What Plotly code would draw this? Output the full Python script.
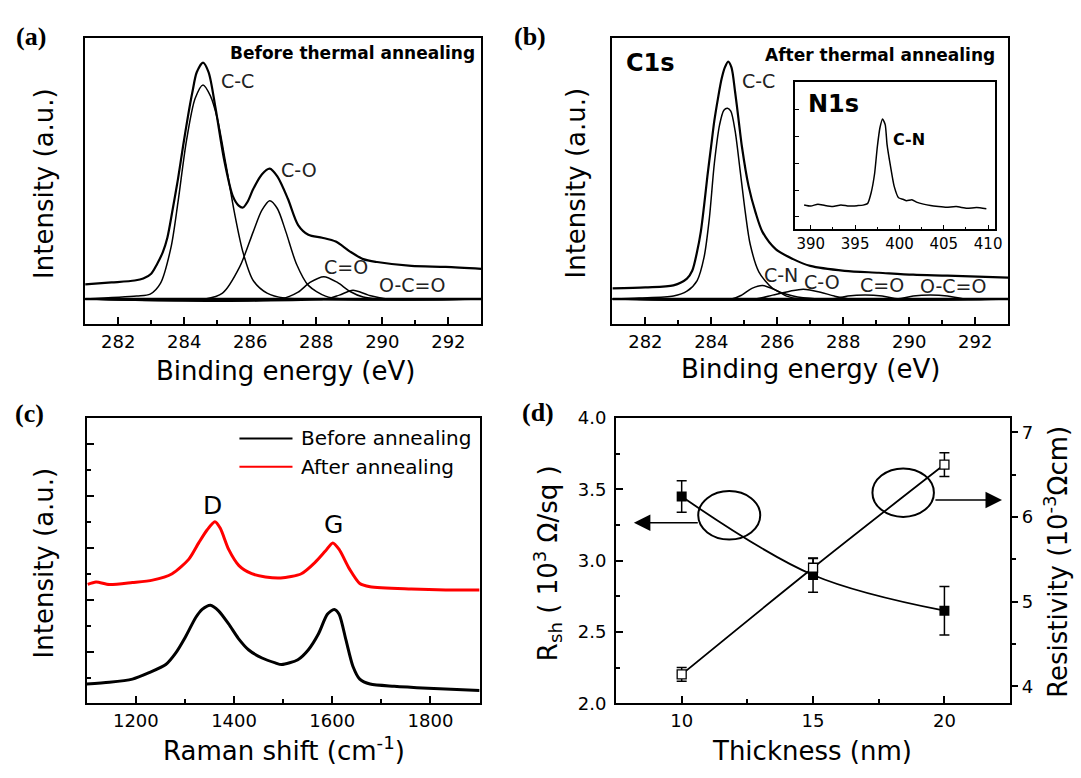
import plotly.graph_objects as go

W, H = 1081, 778
SANS = "DejaVu Sans"
SERIF = "Liberation Serif"

# ---------------- (a) C1s XPS, before thermal annealing ----------------
a_env_x = [281.0, 281.8, 282.5, 282.76, 283.0, 283.18, 283.35, 283.49, 283.65, 283.81,
           283.97, 284.12, 284.25, 284.38, 284.57, 284.74, 284.95, 285.21, 285.47, 285.65,
           285.78, 285.92, 286.09, 286.35, 286.59, 286.82, 287.14, 287.45, 287.76, 288.18,
           288.59, 289.01, 289.42, 289.84, 290.88, 291.92, 293.0]
a_env_y = [15, 17, 19, 21, 26, 36, 48, 63, 92, 123,
           158, 189, 213, 233, 243, 233, 196, 143, 106, 96,
           94, 100, 113, 128, 134, 126, 103, 76, 66, 63,
           59, 49, 41, 38, 34, 33, 31]
a_cc_x = [281.0, 282.56, 282.97, 283.28, 283.6, 283.81, 284.07, 284.33, 284.57, 284.79,
          285.0, 285.26, 285.52, 285.78, 286.09, 286.51, 287.03, 293.0]
a_cc_y = [0, 3, 5, 16, 53, 99, 163, 206, 220, 209, 186, 139, 89, 48, 19, 6, 1, 0]
a_co_x = [281.0, 284.64, 285.16, 285.68, 286.09, 286.35, 286.59, 286.82, 287.08, 287.4,
          287.76, 288.28, 288.8, 293.0]
a_co_y = [0, 0, 6, 33, 69, 91, 101, 93, 69, 36, 14, 3, 0, 0]
a_c2o_x = [281.0, 286.93, 287.45, 287.81, 288.23, 288.64, 289.01, 289.42, 289.84, 293.0]
a_c2o_y = [0, 0, 7, 17, 23, 17, 8, 2, 0, 0]
a_occ_x = [281.0, 288.28, 288.7, 289.11, 289.58, 290.15, 293.0]
a_occ_y = [0, 0, 4, 9, 4, 0, 0]
a_base_x = [281.0, 293.0]
a_base_y = [0, 0]

# ---------------- (b) C1s XPS, after thermal annealing ----------------
b_env_x = [281.0, 282.0, 282.85, 283.26, 283.42, 283.57, 283.68, 283.78, 283.88, 283.99,
           284.09, 284.2, 284.31, 284.41, 284.51, 284.61, 284.72, 284.82, 284.93, 285.13,
           285.34, 285.55, 285.96, 286.48, 287.0, 288.04, 289.08, 290.12, 291.16, 293.0]
b_env_y = [11, 12, 14, 21, 29, 49, 69, 96, 126, 156,
           183, 206, 226, 238, 244, 238, 213, 186, 156, 116,
           89, 69, 51, 41, 34, 29, 27, 25, 24, 22]
b_cc_x = [281.0, 281.81, 282.85, 283.26, 283.57, 283.78, 283.94, 284.09, 284.25, 284.38,
          284.49, 284.59, 284.72, 284.87, 285.03, 285.18, 285.44, 285.86, 286.48, 287.21, 293.0]
b_cc_y = [0, 1, 3, 8, 19, 43, 83, 139, 179, 194, 196, 193, 173, 133, 89, 56, 28, 11, 3, 0, 0]
b_cn_x = [281.0, 284.61, 284.92, 285.23, 285.55, 285.96, 286.28, 286.69, 293.0]
b_cn_y = [0, 0, 4, 11, 14, 9, 3, 0, 0]
b_co_x = [281.0, 285.34, 285.86, 286.38, 286.79, 287.31, 287.73, 288.25, 293.0]
b_co_y = [0, 0, 4, 8, 10, 7, 3, 0, 0]
b_c2o_x = [281.0, 287.62, 288.14, 288.66, 289.18, 289.7, 293.0]
b_c2o_y = [0, 0, 3, 4, 3, 0, 0]
b_occ_x = [281.0, 289.6, 290.12, 290.64, 291.16, 291.68, 293.0]
b_occ_y = [0, 0, 3, 4, 3, 0, 0]
b_base_x = [281.0, 293.0]
b_base_y = [0, 0]

# inset N1s
n_x = [389.25, 390.0, 390.8, 391.6, 392.5, 393.4, 394.3, 395.3, 395.9, 396.4,
       396.8, 397.2, 397.5, 397.8, 398.1, 398.4, 398.6, 399.0, 399.4, 399.9,
       400.4, 400.8, 401.4, 402.0, 402.7, 403.5, 404.4, 405.3, 406.4, 407.6,
       408.7, 409.8]
n_y = [24.7, 23.5, 25.5, 24, 23, 24.7, 23.5, 24, 24.5, 26,
       37, 57, 84, 104, 113, 107, 87, 64, 44, 32,
       30.5, 29, 30, 27.3, 25.5, 24, 23, 22.3, 23, 21.3,
       22, 20.7]

# ---------------- (c) Raman ----------------
r_before_x = [1100, 1146, 1193, 1227, 1261, 1281, 1301, 1322, 1335, 1352,
              1369, 1389, 1409, 1430, 1457, 1484, 1497, 1530, 1551, 1572,
              1590, 1604, 1614, 1628, 1642, 1656, 1677, 1726, 1795, 1900]
r_before_y = [0.375, 0.407, 0.469, 0.594, 0.75, 0.969, 1.281, 1.656, 1.813, 1.894,
              1.781, 1.532, 1.251, 1.031, 0.876, 0.782, 0.75, 0.844, 1.031, 1.344,
              1.719, 1.813, 1.719, 1.219, 0.718, 0.469, 0.375, 0.332, 0.294, 0.249]
r_after_x = [1102, 1119, 1146, 1193, 1234, 1274, 1308, 1328, 1345, 1361,
             1372, 1389, 1410, 1436, 1464, 1495, 1537, 1565, 1586, 1601,
             1614, 1635, 1656, 1677, 1761, 1831, 1900]
r_after_y = [2.293, 2.34, 2.293, 2.331, 2.376, 2.5, 2.781, 3.094, 3.343, 3.501,
             3.375, 2.968, 2.657, 2.5, 2.438, 2.419, 2.5, 2.719, 2.938, 3.094,
             2.968, 2.593, 2.312, 2.25, 2.207, 2.188, 2.188]
raman_names = ["Before annealing", "After annealing"]

# ---------------- (d) sheet resistance / resistivity ----------------
thick = [10, 15, 20]
rsh = [3.45, 2.90, 2.65]
rsh_err = [0.11, 0.12, 0.17]
rho = [4.14, 5.40, 6.62]
rho_err = [0.08, 0.11, 0.14]


def fx(px):
    return px / W


def fy(py):
    return 1 - py / H


fig = go.Figure()

def comp(x, y, xa, ya, w=1.5):
    fig.add_trace(go.Scatter(x=x, y=y, mode="lines", xaxis=xa, yaxis=ya,
                             line=dict(color="black", width=w, shape="spline", smoothing=0.8),
                             showlegend=False, hoverinfo="skip"))

# (a)
comp(a_base_x, a_base_y, "x", "y", 2.5)
for xs, ys in [(a_cc_x, a_cc_y), (a_co_x, a_co_y), (a_c2o_x, a_c2o_y), (a_occ_x, a_occ_y)]:
    comp(xs, ys, "x", "y", 1.5)
comp(a_env_x, a_env_y, "x", "y", 2.2)
# (b)
comp(b_base_x, b_base_y, "x2", "y2", 2.5)
for xs, ys in [(b_cc_x, b_cc_y), (b_cn_x, b_cn_y), (b_co_x, b_co_y),
               (b_c2o_x, b_c2o_y), (b_occ_x, b_occ_y)]:
    comp(xs, ys, "x2", "y2", 1.5)
comp(b_env_x, b_env_y, "x2", "y2", 2.2)
# inset
fig.add_trace(go.Scatter(x=n_x, y=n_y, mode="lines", xaxis="x3", yaxis="y3",
                         line=dict(color="black", width=1.5, shape="spline", smoothing=0.5),
                         showlegend=False))
# (c)
fig.add_trace(go.Scatter(x=r_before_x, y=r_before_y, mode="lines", xaxis="x4", yaxis="y4",
                         name=raman_names[0],
                         line=dict(color="black", width=3, shape="spline", smoothing=0.7),
                         showlegend=False))
fig.add_trace(go.Scatter(x=r_after_x, y=r_after_y, mode="lines", xaxis="x4", yaxis="y4",
                         name=raman_names[1],
                         line=dict(color="#ff0000", width=3, shape="spline", smoothing=0.7),
                         showlegend=False))
# (d)
fig.add_trace(go.Scatter(x=thick, y=rsh, mode="lines+markers", xaxis="x5", yaxis="y5",
                         line=dict(color="black", width=1.8, shape="spline"),
                         marker=dict(symbol="square", size=10, color="black"),
                         error_y=dict(type="data", array=rsh_err, color="black",
                                      thickness=1.5, width=5),
                         showlegend=False))
fig.add_trace(go.Scatter(x=thick, y=rho, mode="lines+markers", xaxis="x5", yaxis="y6",
                         line=dict(color="black", width=1.8, shape="spline"),
                         marker=dict(symbol="square", size=9, color="white",
                                     line=dict(color="black", width=1.3)),
                         error_y=dict(type="data", array=rho_err, color="black",
                                      thickness=1.5, width=5),
                         showlegend=False))

tickfont = dict(family=SANS, size=18, color="black")
box = dict(showline=True, linewidth=2, linecolor="black", mirror=True,
           showgrid=False, zeroline=False)

def xpsx(dom, anchor):
    return dict(domain=dom, anchor=anchor, range=[281, 293], dtick=2, tick0=282,
                ticks="inside", ticklen=7, tickwidth=1.5, tickcolor="black",
                minor=dict(ticks="inside", ticklen=4, dtick=1, tickwidth=1.5, tickcolor="black"),
                tickfont=tickfont, **box)

def noy(dom, anchor, rng):
    return dict(domain=dom, anchor=anchor, range=rng, showticklabels=False, ticks="", **box)

fig.update_layout(
    width=W, height=H, margin=dict(l=0, r=0, t=0, b=0),
    paper_bgcolor="white", plot_bgcolor="white",
    xaxis=xpsx([fx(85.7), fx(484.5)], "y"),
    yaxis=noy([fy(321.7), fy(27.5)], "x", [-25.7, 268.5]),
    xaxis2=xpsx([fx(616.4), fx(1014.7)], "y2"),
    yaxis2=noy([fy(321.7), fy(27.5)], "x2", [-25.7, 268.5]),
    xaxis3=dict(domain=[fx(800), fx(1001.7)], anchor="y3", range=[388.2, 410.8], dtick=5,
                ticks="inside", ticklen=4, tickwidth=1, tickcolor="black",
                minor=dict(ticks="inside", ticklen=2, dtick=2.5, tickcolor="black"),
                tickfont=dict(family=SANS, size=15, color="black"),
                showline=True, linewidth=1.5, linecolor="black", mirror=True,
                showgrid=False, zeroline=False),
    yaxis3=dict(domain=[fy(224), fy(73.3)], anchor="x3", range=[0, 150.7],
                tick0=12.3, dtick=27.7, ticks="inside", ticklen=4, tickwidth=1, tickcolor="black",
                showticklabels=False, showline=True, linewidth=1.5, linecolor="black",
                mirror=True, showgrid=False, zeroline=False),
    xaxis4=dict(domain=[fx(87.3), fx(482.7)], anchor="y4", range=[1100, 1900], dtick=200,
                ticks="inside", ticklen=7, tickwidth=1.5, tickcolor="black",
                minor=dict(ticks="inside", ticklen=4, dtick=100, tickwidth=1.5, tickcolor="black"),
                tickfont=tickfont, **box),
    yaxis4=dict(domain=[fy(711.7), fy(418.3)], anchor="x4", range=[0, 5.5], dtick=1, tick0=0,
                ticks="inside", ticklen=7, tickwidth=1.5, tickcolor="black",
                minor=dict(ticks="inside", ticklen=4, dtick=0.5, tickwidth=1.5, tickcolor="black"),
                showticklabels=False, **box),
    xaxis5=dict(domain=[fx(620), fx(1016.7)], anchor="y5", range=[7.5, 22.5], dtick=5, tick0=0,
                ticks="inside", ticklen=7, tickwidth=1.5, tickcolor="black",
                minor=dict(ticks="inside", ticklen=4, dtick=2.5, tickwidth=1.5, tickcolor="black"),
                tickfont=tickfont, **box),
    yaxis5=dict(domain=[fy(711.7), fy(418.3)], anchor="x5", range=[2.0, 4.0], dtick=0.5,
                tick0=0, tickformat=".1f", ticks="inside", ticklen=7, tickwidth=1.5,
                tickcolor="black",
                minor=dict(ticks="inside", ticklen=4, dtick=0.25, tickwidth=1.5, tickcolor="black"),
                tickfont=tickfont, ticklabelstandoff=4, **box),
    yaxis6=dict(overlaying="y5", side="right", anchor="x5", range=[3.796, 7.17], dtick=1,
                tick0=0, ticks="outside", ticklen=6, tickwidth=1.5, tickcolor="black",
                minor=dict(ticks="outside", ticklen=4, dtick=0.5, tickwidth=1.5, tickcolor="black"),
                tickfont=tickfont, showline=True, linewidth=2, linecolor="black",
                showgrid=False, zeroline=False),
)

ann = []

def paper_text(text, px, py, size, angle=0, font=SANS, xanchor="center", color="black"):
    ann.append(dict(text=text, x=fx(px), y=fy(py), xref="paper", yref="paper",
                    showarrow=False, textangle=angle, xanchor=xanchor, yanchor="middle",
                    font=dict(family=font, size=size, color=color)))

def data_text(text, x, y, xr, yr, size, bold=False, xanchor="left", color="#222"):
    ann.append(dict(text=("<b>%s</b>" % text) if bold else text, x=x, y=y, xref=xr, yref=yr,
                    showarrow=False, xanchor=xanchor, yanchor="middle",
                    font=dict(family=SANS, size=size, color=color)))

# panel letters
for lab, px, py in [("(a)", 31, 26), ("(b)", 533, 26), ("(c)", 30, 414), ("(d)", 542, 413)]:
    paper_text("<b>%s</b>" % lab, px, py, 26, font=SERIF)

# axis titles
paper_text("Binding energy (eV)", 287.5, 370, 26)
paper_text("Binding energy (eV)", 815.8, 368, 26)
paper_text("Raman shift (cm<sup>-1</sup>)", 285.8, 758, 26)
paper_text("Thickness (nm)", 817, 761, 26)
paper_text("Intensity (a.u.)", 45, 177, 26, angle=-90)
paper_text("Intensity (a.u.)", 580, 177, 26, angle=-90)
paper_text("Intensity (a.u.)", 44, 567, 26, angle=-90)
paper_text("R<sub>sh</sub> ( 10<sup>3</sup> Ω/sq )", 551, 567, 26, angle=-90)
paper_text("Resistivity (10<sup>-3</sup>Ωcm)", 1063, 566, 26, angle=-90)

# (a) labels
data_text("Before thermal annealing", 292.86, 252.7, "x", "y", 17, bold=True,
          xanchor="right", color="black")
data_text("C-C", 285.05, 224, "x", "y", 19)
data_text("C-O", 286.87, 133, "x", "y", 19)
data_text("C=O", 288.18, 33, "x", "y", 19)
data_text("O-C=O", 289.84, 14, "x", "y", 19)
# (b) labels
data_text("After thermal annealing", 292.66, 251, "x2", "y2", 17, bold=True,
          xanchor="right", color="black")
data_text("C1s", 281.34, 243, "x2", "y2", 24, bold=True, color="black")
data_text("C-C", 284.87, 224, "x2", "y2", 19)
data_text("C-N", 285.55, 25, "x2", "y2", 19)
data_text("C-O", 286.74, 17, "x2", "y2", 19)
data_text("C=O", 288.46, 14, "x2", "y2", 19)
data_text("O-C=O", 290.27, 13, "x2", "y2", 19)
# inset labels
data_text("N1s", 389.41, 128, "x3", "y3", 24, bold=True, color="black")
data_text("C-N", 399.0, 92, "x3", "y3", 16, bold=True, color="black")
# (c) labels
data_text("D", 1355.8, 3.81, "x4", "y4", 25, xanchor="center", color="black")
data_text("G", 1603.5, 3.44, "x4", "y4", 25, xanchor="center", color="black")

# (c) legend (drawn by hand)
shapes = []
for name, col, py in [(raman_names[0], "black", 439.3), (raman_names[1], "#ff0000", 468.3)]:
    shapes.append(dict(type="line", xref="paper", yref="paper", x0=fx(241), x1=fx(294.4),
                       y0=fy(py), y1=fy(py), line=dict(color=col, width=2)))
    paper_text(name, 301, py, 20, xanchor="left")

# (d) ellipses and arrows
shapes.append(dict(type="circle", xref="x5", yref="y5", x0=10.63, x1=12.99, y0=3.148, y1=3.488,
                   line=dict(color="black", width=2)))
shapes.append(dict(type="circle", xref="x5", yref="y5", x0=17.26, x1=19.6, y0=3.307, y1=3.647,
                   line=dict(color="black", width=2)))
ann.append(dict(x=8.18, y=3.266, ax=10.67, ay=3.266, xref="x5", yref="y5", axref="x5",
                ayref="y5", showarrow=True, arrowhead=2, arrowsize=2.2, arrowwidth=1.5,
                arrowcolor="black", text=""))
ann.append(dict(x=22.19, y=3.425, ax=19.6, ay=3.425, xref="x5", yref="y5", axref="x5",
                ayref="y5", showarrow=True, arrowhead=2, arrowsize=2.2, arrowwidth=1.5,
                arrowcolor="black", text=""))

fig.update_layout(annotations=ann, shapes=shapes)
fig.write_html("out.html", config={"displayModeBar": False},
               post_script="document.body.style.margin='0px';document.body.style.overflow='hidden';")
